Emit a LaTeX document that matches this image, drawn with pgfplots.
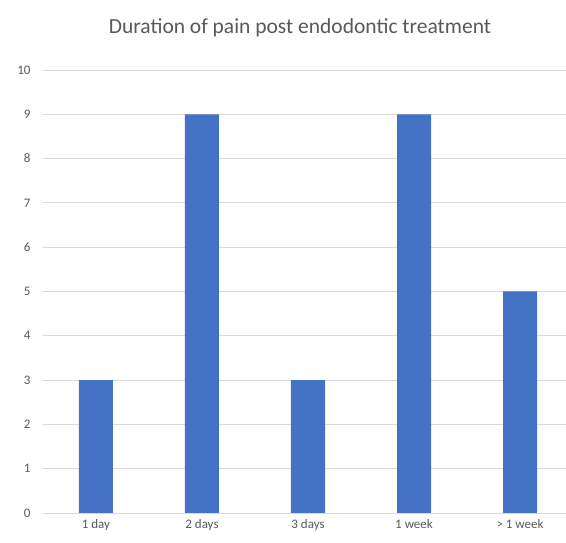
\documentclass[border=0pt]{standalone}
\usepackage{fontspec}
\setmainfont{Carlito}
\usepackage{pgfplots}
\pgfplotsset{compat=1.18}
\definecolor{barblue}{HTML}{4472C4}
\definecolor{gridgray}{HTML}{D9D9D9}
\definecolor{textgray}{HTML}{595959}
\begin{document}
\begin{tikzpicture}[x=1pt,y=1pt]
\useasboundingbox (0,0) rectangle (566,543);
\begin{axis}[
  at={(43pt,30pt)}, anchor=south west,
  scale only axis,
  width=523pt, height=443pt,
  ymin=0, ymax=10,
  xmin=-0.5, xmax=4.434,
  ytick={0,1,...,10},
  xtick=data,
  xticklabels={1 day,2 days,3 days,1 week,> 1 week},
  ymajorgrids,
  grid style={gridgray, line width=0.8pt},
  axis line style={draw=none},
  axis x line*=bottom,
  axis y line*=left,
  x axis line style={draw=none},
  major tick length=0pt,
  tick label style={font=\fontsize{13}{15}\selectfont, text=textgray},
  /pgf/number format/assume math mode=true,
  yticklabel style={xshift=-9pt},
  xticklabel style={yshift=-3pt},
  clip=false,
]
\addplot[ybar, bar width=34pt, fill=barblue, draw=none] coordinates {
  (0,3) (1,9) (2,3) (3,9) (4,5)
};
\end{axis}
\node[text=textgray, font=\fontsize{21.5}{25}\selectfont] at (300,515) {Duration of pain post endodontic treatment};
\end{tikzpicture}
\end{document}
